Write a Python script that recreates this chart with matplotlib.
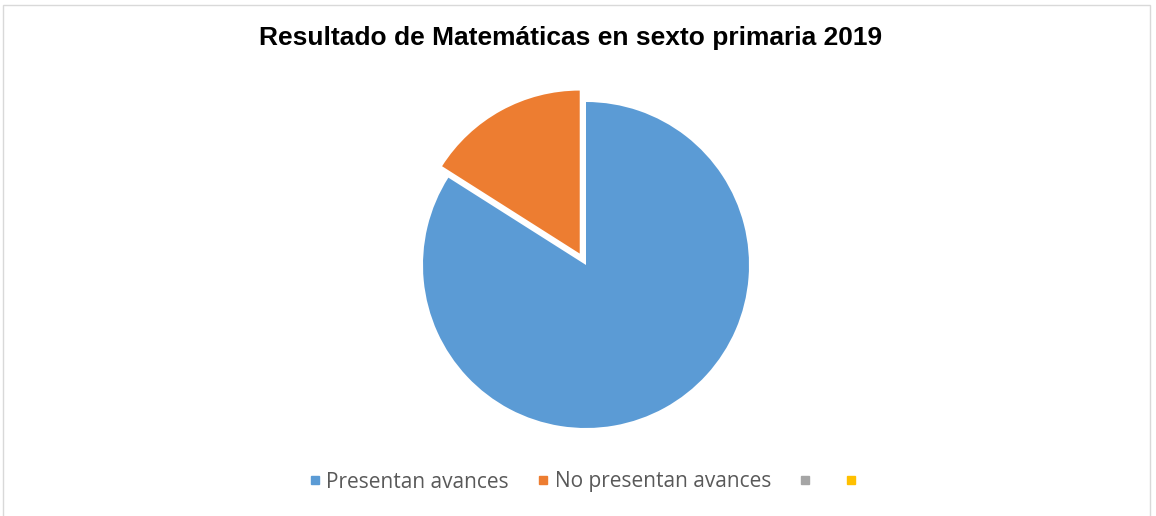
import matplotlib.pyplot as plt
from matplotlib.lines import Line2D
from matplotlib.patches import Rectangle

# data
labels = ["Presentan avances", "No presentan avances", "", ""]
values = [84, 16, 0, 0]
colors = ["#5B9BD5", "#ED7D31", "#A5A5A5", "#FFC000"]

fig = plt.figure(figsize=(11.56, 5.16), dpi=100)

# chart border
fig.patches.append(Rectangle((3 / 1156, -0.01), 1147 / 1156, 1 - 5 / 516 + 0.01,
                             transform=fig.transFigure, fill=False,
                             edgecolor="#D9D9D9", linewidth=1))

fig.text(571 / 1156, 1 - 38 / 516, "Resultado de Matemáticas en sexto primaria 2019",
         ha="center", va="center", fontsize=19, fontweight="bold",
         family="Liberation Sans", color="black")

r = 163
cx, cy = 586, 265
ax = fig.add_axes([(cx - r) / 1156, (516 - cy - r) / 516, 2 * r / 1156, 2 * r / 516])
wedges, _ = ax.pie(values[:2], colors=colors[:2], startangle=90, counterclock=False,
                   explode=[0, 0.08], radius=1,
                   wedgeprops=dict(edgecolor="white", linewidth=0))
for w in wedges:
    w.set_clip_on(False)
ax.set_xlim(-1, 1)
ax.set_ylim(-1, 1)
ax.set_aspect("equal")
ax.axis("off")

handles = [Line2D([], [], marker="s", linestyle="none", markersize=5.5,
                  markerfacecolor=c, markeredgecolor=c) for c in colors]
fig.legend(handles, labels, loc="center", bbox_to_anchor=(586 / 1156, 1 - 482 / 516),
           ncol=4, frameon=False, handlelength=0.5, handletextpad=0.3,
           columnspacing=1.4, prop=dict(family="Open Sans", size=15),
           labelcolor="#595959")

fig.savefig("out.png", dpi=100)
